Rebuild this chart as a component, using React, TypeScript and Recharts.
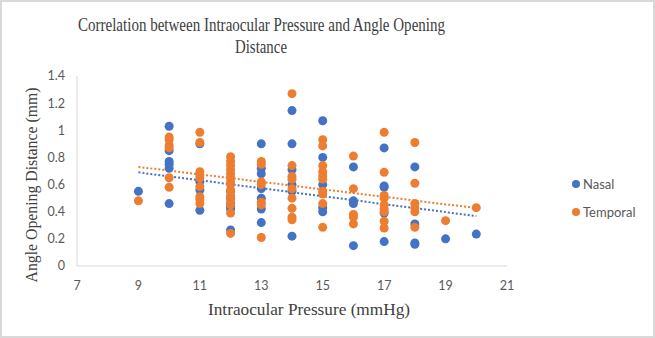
import { ReferenceLine, Scatter, ScatterChart, XAxis, YAxis } from "recharts";

const pressures = [9, 10, 11, 12, 13, 14, 15, 16, 17, 18, 19, 20];

// Angle opening distance (mm) per pressure column
const nasalAod = [
  [0.55],
  [1.03, 0.85, 0.77, 0.75, 0.72, 0.46],
  [0.9, 0.62, 0.56, 0.41],
  [0.55, 0.5, 0.46, 0.44, 0.42, 0.265],
  [0.9, 0.72, 0.68, 0.57, 0.5, 0.42, 0.32],
  [1.145, 0.9, 0.71, 0.6, 0.55, 0.22],
  [1.07, 0.8, 0.6, 0.43, 0.4],
  [0.73, 0.48, 0.46, 0.15],
  [0.87, 0.59, 0.58, 0.39, 0.18],
  [0.73, 0.31, 0.17, 0.16],
  [0.2],
  [0.235],
];

const temporalAod = [
  [0.48],
  [0.95, 0.93, 0.89, 0.87, 0.65, 0.58],
  [0.985, 0.91, 0.695, 0.67, 0.65, 0.585, 0.51, 0.49, 0.46],
  [0.805, 0.77, 0.74, 0.71, 0.68, 0.65, 0.62, 0.6, 0.56, 0.52, 0.49, 0.45, 0.39, 0.24],
  [0.77, 0.75, 0.62, 0.6, 0.47, 0.45, 0.21],
  [1.27, 0.74, 0.66, 0.64, 0.57, 0.5, 0.425, 0.36, 0.34],
  [0.93, 0.885, 0.74, 0.695, 0.665, 0.64, 0.55, 0.53, 0.46, 0.285],
  [0.81, 0.57, 0.38, 0.36, 0.31],
  [0.985, 0.69, 0.52, 0.5, 0.45, 0.42, 0.4, 0.33, 0.28],
  [0.91, 0.61, 0.46, 0.43, 0.4, 0.285],
  [0.334],
  [0.43],
];

// linear trendline end points as drawn
const nasalTrend = [
  { x: 9, y: 0.69 },
  { x: 20, y: 0.368 },
];
const temporalTrend = [
  { x: 9, y: 0.73 },
  { x: 20, y: 0.427 },
];

const xTicks = [7, 9, 11, 13, 15, 17, 19, 21];
const yTicks = [0, 0.2, 0.4, 0.6, 0.8, 1, 1.2, 1.4];
const seriesNames = ["Nasal", "Temporal"];

const BLUE = "#4472C4";
const ORANGE = "#ED7D31";
const SERIF = "'Liberation Serif', 'Times New Roman', serif";
const SANS = "Lato, 'Open Sans', sans-serif";

const toPoints = (groups: number[][]) =>
  groups.flatMap((ys, i) => ys.map((y) => ({ x: pressures[i], y })));

const nasal = toPoints(nasalAod);
const temporal = toPoints(temporalAod);

const dot = (color: string) => (p: any) =>
  <circle cx={p.cx} cy={p.cy} r={4.5} fill={color} />;

export default function App() {
  const colors = [BLUE, ORANGE];
  return (
    <div
      style={{
        position: "absolute",
        top: 0,
        left: 0,
        width: 655,
        height: 338,
        background: "#fff",
      }}
    >
      <ScatterChart
        width={655}
        height={338}
        margin={{ top: 76, right: 148, bottom: 42, left: 37 }}
      >
        <XAxis
          type="number"
          dataKey="x"
          domain={[7, 21]}
          ticks={xTicks}
          interval={0}
          height={30}
          axisLine={{ stroke: "#d9d9d9" }}
          tickLine={false}
          tickSize={0}
          tickMargin={15}
          tick={{ fill: "#595959", fontSize: 12.5, fontFamily: SANS }}
        />
        <YAxis
          type="number"
          dataKey="y"
          domain={[0, 1.4]}
          ticks={yTicks}
          interval={0}
          width={40}
          axisLine={{ stroke: "#d9d9d9" }}
          tickLine={false}
          tickSize={0}
          tickMargin={12}
          tickFormatter={(v) => String(Number(Number(v).toFixed(1)))}
          tick={{ fill: "#595959", fontSize: 12.5, fontFamily: SANS }}
        />
        <Scatter
          name="Nasal"
          data={nasal}
          fill={BLUE}
          shape={dot(BLUE)}
          isAnimationActive={false}
        />
        <Scatter
          name="Temporal"
          data={temporal}
          fill={ORANGE}
          shape={dot(ORANGE)}
          isAnimationActive={false}
        />
        <ReferenceLine
          segment={nasalTrend}
          stroke={BLUE}
          strokeWidth={2}
          strokeDasharray="2 2"
          ifOverflow="visible"
        />
        <ReferenceLine
          segment={temporalTrend}
          stroke={ORANGE}
          strokeWidth={2}
          strokeDasharray="2 2"
          ifOverflow="visible"
        />
      </ScatterChart>

      <svg
        width={655}
        height={338}
        style={{ position: "absolute", top: 0, left: 0, pointerEvents: "none" }}
      >
        <rect x={1} y={1} width={653} height={336} fill="none" stroke="#d9d9d9" strokeWidth={2} />
        <g fontFamily={SERIF} fill="#404040">
          <text
            x={261.5}
            y={31}
            fontSize={18}
            textAnchor="middle"
            textLength={367}
            lengthAdjust="spacingAndGlyphs"
          >
            Correlation between Intraocular Pressure and Angle Opening
          </text>
          <text
            x={261}
            y={53}
            fontSize={18}
            textAnchor="middle"
            textLength={52}
            lengthAdjust="spacingAndGlyphs"
          >
            Distance
          </text>
          <text
            x={309}
            y={315}
            fontSize={16}
            textAnchor="middle"
            textLength={202}
            lengthAdjust="spacingAndGlyphs"
          >
            Intraocular Pressure (mmHg)
          </text>
          <text
            x={37}
            y={185}
            fontSize={16}
            textAnchor="middle"
            transform="rotate(-90, 37, 185)"
            textLength={195}
            lengthAdjust="spacingAndGlyphs"
          >
            Angle Opening Distance (mm)
          </text>
        </g>
        <g fontFamily={SANS} fontSize={13} fill="#595959">
          {seriesNames.map((name, i) => (
            <g key={name}>
              <circle cx={576} cy={184 + i * 28} r={4} fill={colors[i]} />
              <text x={583} y={188.5 + i * 28}>
                {name}
              </text>
            </g>
          ))}
        </g>
      </svg>
    </div>
  );
}
